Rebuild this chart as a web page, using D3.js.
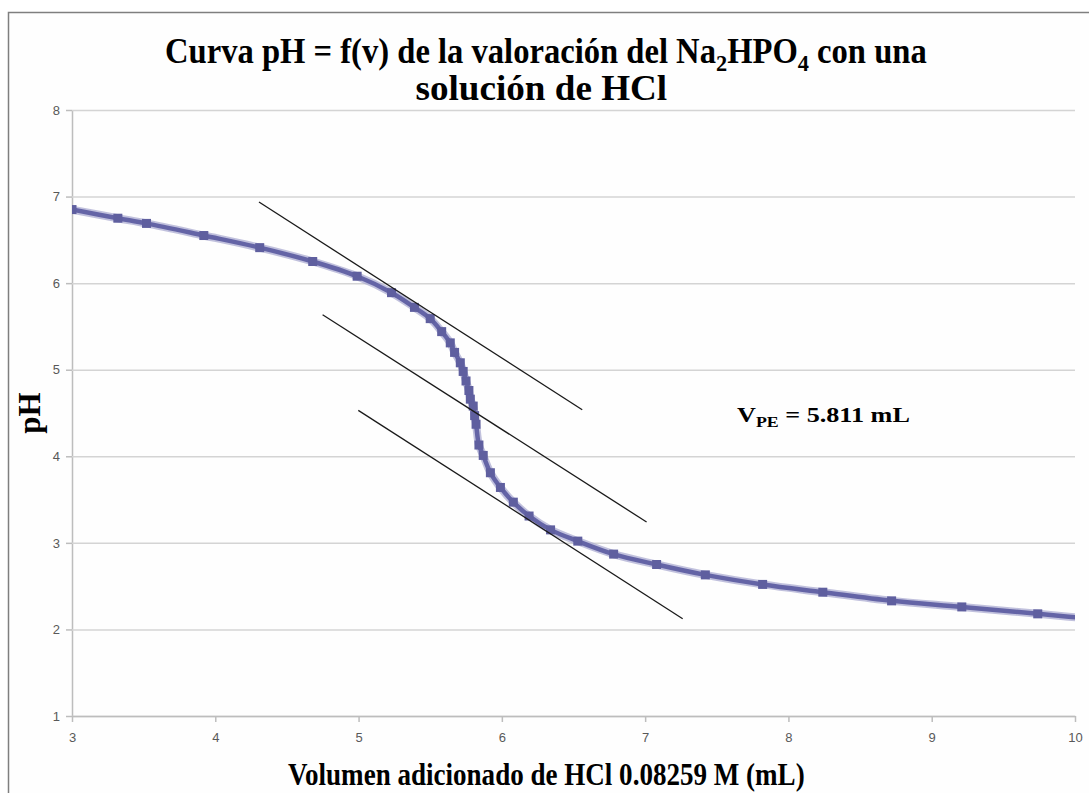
<!DOCTYPE html>
<html>
<head>
<meta charset="utf-8">
<script src="https://cdn.jsdelivr.net/npm/d3@7"></script>
<style>
  html, body { margin: 0; padding: 0; background: #ffffff; }
  svg { display: block; }
</style>
</head>
<body>
<svg id="chart" width="1089" height="793"></svg>
<script>
// Titration of Na2HPO4 with HCl: added volume (mL) and measured pH
const volume = [3.00, 3.32, 3.52, 3.92, 4.31, 4.68, 4.99, 5.23, 5.39, 5.50,
                5.58, 5.64, 5.67, 5.71, 5.73, 5.75, 5.77, 5.78, 5.80, 5.81,
                5.82, 5.84, 5.87, 5.92, 5.99, 6.08, 6.19, 6.34, 6.53, 6.78,
                7.08, 7.42, 7.82, 8.24, 8.72, 9.21, 9.74, 10.27];
const pH     = [6.85, 6.75, 6.69, 6.55, 6.41, 6.25, 6.08, 5.89, 5.72, 5.59,
                5.44, 5.31, 5.20, 5.08, 4.98, 4.87, 4.76, 4.66, 4.58, 4.47,
                4.37, 4.13, 4.01, 3.81, 3.64, 3.47, 3.31, 3.15, 3.02, 2.87,
                2.75, 2.63, 2.52, 2.43, 2.33, 2.26, 2.18, 2.10];

// Parallel tangent construction used to locate the equivalence point
const tangentStartV  = [4.305, 4.749, 4.998];
const tangentStartPH = [6.937, 5.635, 4.530];
const tangentEndV    = [6.561, 7.010, 7.262];
const tangentEndPH   = [4.538, 3.241, 2.124];

const xTicks = [3, 4, 5, 6, 7, 8, 9, 10];
const yTicks = [1, 2, 3, 4, 5, 6, 7, 8];

const equivalenceVolume = "5.811";

const svg = d3.select("#chart");
const W = 1089, H = 793;
const plot = { left: 72, right: 1075, top: 110, bottom: 716 };

svg.append("rect").attr("width", W).attr("height", H).attr("fill", "#ffffff");

// chart frame (continues beyond the bottom/right edges of the view)
svg.append("rect")
  .attr("x", 8.5).attr("y", 12.5)
  .attr("width", W + 20).attr("height", H + 20)
  .attr("fill", "#fefefe")
  .attr("stroke", "#7f7f7f").attr("stroke-width", 1.5);

const x = d3.scaleLinear().domain([3, 10]).range([plot.left, plot.right]);
const y = d3.scaleLinear().domain([1, 8]).range([plot.bottom, plot.top]);

// horizontal gridlines and y axis
const yAxis = d3.axisLeft(y).tickValues(yTicks).tickSize(-(plot.right - plot.left))
  .tickSizeOuter(0).tickPadding(12).tickFormat(d3.format("d"));
const gy = svg.append("g").attr("transform", `translate(${plot.left},0)`).call(yAxis);
gy.select(".domain").attr("stroke", "#bdbdbd").attr("stroke-width", 1.5);
gy.selectAll(".tick line").attr("stroke", "#d4d4d4").attr("stroke-width", 1.5);
gy.selectAll(".tick").append("line")
  .attr("x1", -6).attr("x2", 0).attr("stroke", "#bdbdbd").attr("stroke-width", 1.5);
gy.selectAll(".tick text")
  .attr("fill", "#595959").attr("font-family", "'Liberation Sans', Arial, sans-serif")
  .attr("font-size", 13);

// x axis
const xAxis = d3.axisBottom(x).tickValues(xTicks).tickSize(6).tickSizeOuter(0)
  .tickPadding(11).tickFormat(d3.format("d"));
const gx = svg.append("g").attr("transform", `translate(0,${plot.bottom})`).call(xAxis);
gx.select(".domain").attr("stroke", "#bdbdbd").attr("stroke-width", 1.5);
gx.selectAll(".tick line").attr("stroke", "#bdbdbd").attr("stroke-width", 1.5);
gx.selectAll(".tick text")
  .attr("fill", "#595959").attr("font-family", "'Liberation Sans', Arial, sans-serif")
  .attr("font-size", 13);

// clip to the plotting area
svg.append("defs").append("clipPath").attr("id", "plotClip")
  .append("rect")
  .attr("x", plot.left).attr("y", plot.top - 10)
  .attr("width", plot.right - plot.left).attr("height", plot.bottom - plot.top + 10);

const data = volume.map((v, i) => ({ v, p: pH[i] }));
const line = d3.line().x(d => x(d.v)).y(d => y(d.p)).curve(d3.curveCatmullRom.alpha(0.5));

const curveG = svg.append("g").attr("clip-path", "url(#plotClip)");
curveG.append("path").datum(data).attr("d", line)
  .attr("fill", "none").attr("stroke", "#acacd2").attr("stroke-width", 8)
  .attr("stroke-linejoin", "round").attr("opacity", 0.75);
curveG.append("path").datum(data).attr("d", line)
  .attr("fill", "none").attr("stroke", "#6464a6").attr("stroke-width", 4.5)
  .attr("stroke-linejoin", "round");
const ms = 9;
curveG.selectAll("rect.marker").data(data).join("rect")
  .attr("class", "marker")
  .attr("x", d => x(d.v) - ms / 2).attr("y", d => y(d.p) - ms / 2)
  .attr("width", ms).attr("height", ms)
  .attr("fill", "#5f5f9f");

// tangent lines
svg.append("g").selectAll("line").data(tangentStartV).join("line")
  .attr("x1", (d, i) => x(tangentStartV[i])).attr("y1", (d, i) => y(tangentStartPH[i]))
  .attr("x2", (d, i) => x(tangentEndV[i])).attr("y2", (d, i) => y(tangentEndPH[i]))
  .attr("stroke", "#1a1a1a").attr("stroke-width", 1.3);

// helper: set text horizontally scaled to a given width
function fitText(sel, left, baseline, width) {
  const w = sel.node().getBBox().width;
  sel.attr("transform", `translate(${left},${baseline}) scale(${width / w},1)`);
}

const serif = "'Liberation Serif', 'Times New Roman', serif";

// title (two lines)
const t1 = svg.append("text").attr("font-family", serif).attr("font-weight", "bold")
  .attr("font-size", 35).attr("fill", "#000");
t1.append("tspan").text("Curva pH = f(v) de la valoración del Na");
t1.append("tspan").attr("font-size", 24).attr("dy", 8).text("2");
t1.append("tspan").attr("dy", -8).text("HPO");
t1.append("tspan").attr("font-size", 24).attr("dy", 8).text("4");
t1.append("tspan").attr("dy", -8).text(" con una");
fitText(t1, 165, 63, 762);

const t2 = svg.append("text").attr("font-family", serif).attr("font-weight", "bold")
  .attr("font-size", 35).attr("fill", "#000").text("solución de HCl");
fitText(t2, 541.5 - 126, 100, 252);

// axis titles
const xt = svg.append("text").attr("font-family", serif).attr("font-weight", "bold")
  .attr("font-size", 31).attr("fill", "#000")
  .text("Volumen adicionado de HCl 0.08259 M (mL)");
fitText(xt, 288, 785, 517);

const yt = svg.append("text").attr("font-family", serif).attr("font-weight", "bold")
  .attr("font-size", 31).attr("fill", "#000")
  .attr("text-anchor", "middle")
  .attr("transform", "translate(40,413) rotate(-90)")
  .text("pH");

// equivalence volume annotation
const ann = svg.append("text").attr("font-family", serif).attr("font-weight", "bold")
  .attr("font-size", 22).attr("fill", "#000");
ann.append("tspan").text("V");
ann.append("tspan").attr("font-size", 15).attr("dy", 5).text("PE");
ann.append("tspan").attr("dy", -5).text(" = " + equivalenceVolume + " mL");
fitText(ann, 737, 422, 173);
</script>
</body>
</html>
